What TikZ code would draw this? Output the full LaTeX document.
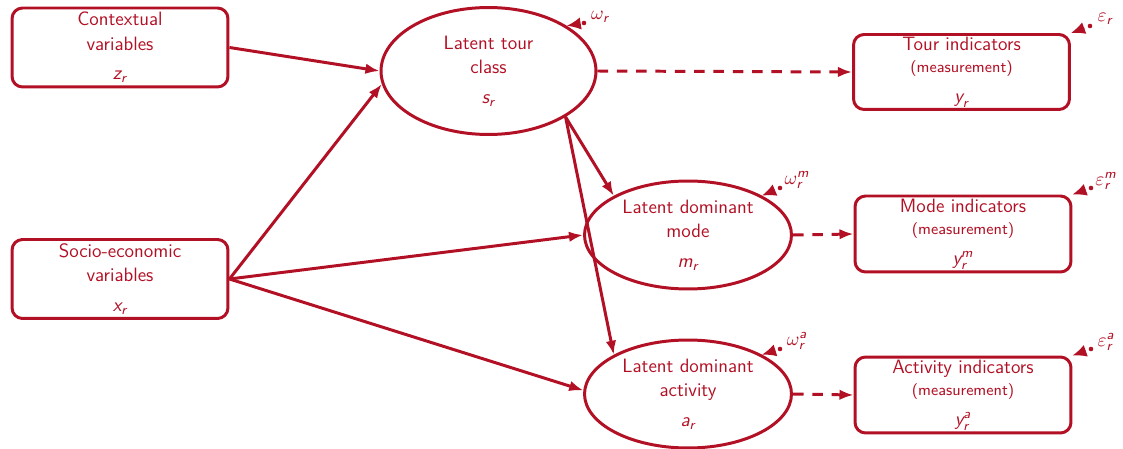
\documentclass[tikz,border=0pt]{standalone}
\usepackage{amsmath}
\usetikzlibrary{arrows.meta,shapes.geometric,calc}
\definecolor{dred}{RGB}{178,16,36}
\newcommand{\mv}[1]{\textsf{\itshape #1}}
\begin{document}
\begin{tikzpicture}[x=0.02cm,y=-0.02cm,
  every node/.style={text=dred,font=\fontsize{11}{13.8}\selectfont\sffamily},
  varbox/.style={draw=dred,line width=1.7pt,rounded corners=6pt,align=center,
    minimum width=4.32cm,minimum height=1.58cm,inner sep=0pt},
  latent/.style={draw=dred,line width=1.7pt,ellipse,align=center,inner sep=0pt},
  arr/.style={draw=dred,line width=1.7pt,-{Latex[length=8pt,width=6pt]}},
  darr/.style={arr,dash pattern=on 6pt off 5pt},
  err/.style={draw=dred,line width=1pt,-{Latex[length=8pt,width=7pt]},shorten <=3.5pt},
  errlab/.style={inner sep=0pt},
]
\useasboundingbox (0,0) rectangle (1123,449);

% observed variables
\node[varbox] (ctx) at (120,47.5) {Contextual\\variables\\[3pt]$\mv{z}_{\mv{r}}$};
\node[varbox] (soc) at (120,279) {Socio-economic\\variables\\[3pt]$\mv{x}_{\mv{r}}$};

% latent
\node[latent,minimum width=4.3cm,minimum height=2.54cm] (tour) at (488.5,71)
  {Latent tour\\class\\[3pt]$\mv{s}_{\mv{r}}$};
\node[latent,minimum width=4.14cm,minimum height=2.16cm] (mode) at (688,235)
  {Latent dominant\\mode\\[3pt]$\mv{m}_{\mv{r}}$};
\node[latent,minimum width=4.14cm,minimum height=2.16cm] (act) at (688,394)
  {Latent dominant\\activity\\[3pt]$\mv{a}_{\mv{r}}$};

% indicators
\node[varbox,minimum height=1.5cm] (tind) at (961.5,72)
  {Tour indicators\\[-1pt]{\fontsize{9}{11}\selectfont (measurement)}\\[3pt]$\mv{y}_{\mv{r}}$};
\node[varbox,minimum height=1.52cm] (mind) at (963,234)
  {Mode indicators\\[-1pt]{\fontsize{9}{11}\selectfont (measurement)}\\[3pt]$\mv{y}_{\mv{r}}^{\mv{m}}$};
\node[varbox,minimum height=1.52cm] (aind) at (963,395)
  {Activity indicators\\[-1pt]{\fontsize{9}{11}\selectfont (measurement)}\\[3pt]$\mv{y}_{\mv{r}}^{\mv{a}}$};

% structural arrows
\draw[arr] (ctx.east) -- (tour.west);
\draw[arr] (soc.east) -- (tour.187);
\draw[arr] (soc.east) -- (mode.west);
\draw[arr] (soc.east) -- (act.178);
\draw[arr] (tour.south east) -- (mode.north west);
\draw[arr] (tour.south east) -- (act.north west);

% measurement arrows
\draw[darr] (tour.east) -- (tind.west);
\draw[darr] (mode.east) -- (mind.west);
\draw[darr] (act.east) -- (aind.west);

% error terms
\node[errlab] (w1) at (600,17) {$\omega_{\mv{r}}$};
\node[errlab] (w2) at (797,180) {$\omega_{\mv{r}}^{\mv{m}}$};
\node[errlab] (w3) at (797,341) {$\omega_{\mv{r}}^{\mv{a}}$};
\node[errlab] (e1) at (1105,19) {$\varepsilon_{\mv{r}}$};
\node[errlab] (e2) at (1106,181) {$\varepsilon_{\mv{r}}^{\mv{m}}$};
\node[errlab] (e3) at (1106,342) {$\varepsilon_{\mv{r}}^{\mv{a}}$};

\coordinate (dw1) at (584,23);
\coordinate (dw2) at (780,188);
\coordinate (dw3) at (780,349);
\coordinate (de1) at (1090,26);
\coordinate (de2) at (1091,188);
\coordinate (de3) at (1091,349);

\foreach \d in {dw1,dw2,dw3,de1,de2,de3} \fill[dred] (\d) circle (1.3pt);

\draw[err] (dw1) -- (tour.30);
\draw[err] (dw2) -- (mode.28);
\draw[err] (dw3) -- (act.28);
\draw[err] (de1) -- (tind.north east);
\draw[err] (de2) -- (mind.north east);
\draw[err] (de3) -- (aind.north east);
\end{tikzpicture}
\end{document}
